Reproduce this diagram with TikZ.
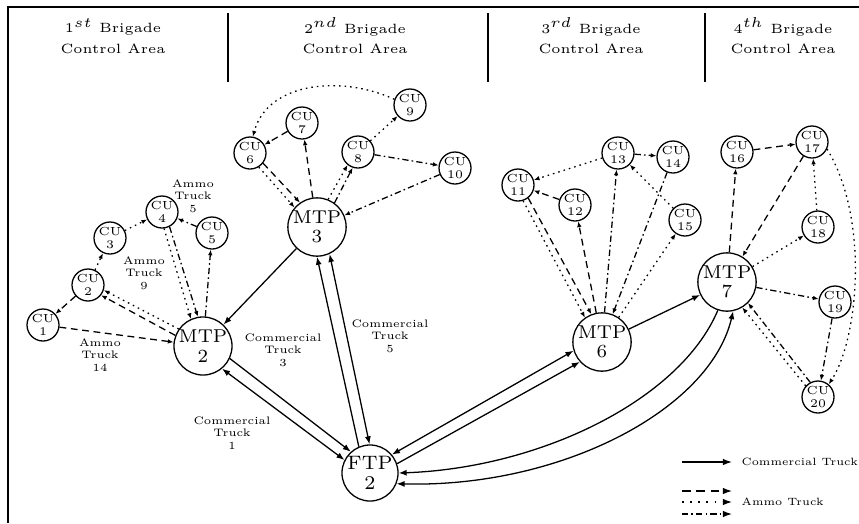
\documentclass[tikz,border=0pt]{standalone}
\usetikzlibrary{arrows.meta}
\begin{document}
\begin{tikzpicture}[x=0.35pt,y=-0.35pt,line width=0.45pt,
  cu/.style={circle,draw,minimum size=11.2pt,inner sep=0pt,align=center,font=\fontsize{4.1}{4.3}\selectfont},
  mtp/.style={circle,draw,minimum size=16.5pt,inner sep=0pt,align=center,font=\fontsize{6.5}{6.8}\selectfont},
  ftp/.style={circle,draw,minimum size=18.9pt,inner sep=0pt,align=center,font=\fontsize{6.8}{7}\selectfont},
  hdr/.style={align=center,font=\fontsize{4.7}{7.2}\selectfont,inner sep=0pt},
  lbl/.style={align=center,font=\fontsize{3.8}{4.4}\selectfont,inner sep=0pt},
  lgd/.style={font=\fontsize{3.7}{4.4}\selectfont,inner sep=0pt},
  am/.style={-{Latex[length=2pt,width=1.6pt]}},
  ar/.style={-{Latex[length=2.8pt,width=2.1pt]}},
  rar/.style={{Latex[length=2.8pt,width=2.1pt]}-},
  bar/.style={{Latex[length=2.8pt,width=2.1pt]}-{Latex[length=2.8pt,width=2.1pt]}},
  legar/.style={-{Latex[length=3.2pt,width=2.3pt]}},
  dsh/.style={dash pattern=on 2.4pt off 1.6pt},
  dtt/.style={dash pattern=on 0.55pt off 1.4pt},
  ddt/.style={dash pattern=on 2.2pt off 1.1pt on 0.55pt off 1.1pt},
  frame/.style={line width=0.8pt},
  sep/.style={line width=0.55pt}
]
\useasboundingbox (0,0) rectangle (859,523);

% frame
\coordinate (f0) at (8,523);
\coordinate (f1) at (8,7);
\coordinate (f2) at (859,7);
\draw[frame] (f0) -- (f1) -- (f2);

% separators
\coordinate (s1a) at (228,13); \coordinate (s1b) at (228,82);
\coordinate (s2a) at (488,13); \coordinate (s2b) at (488,82);
\coordinate (s3a) at (705,13); \coordinate (s3b) at (705,82);
\draw[sep] (s1a) -- (s1b);
\draw[sep] (s2a) -- (s2b);
\draw[sep] (s3a) -- (s3b);

% headers
\node[hdr] (h1) at (113,36) {1$^{st}$ Brigade\\Control Area};
\node[hdr] (h2) at (355,36) {2$^{nd}$ Brigade\\Control Area};
\node[hdr] (h3) at (591,36) {3$^{rd}$ Brigade\\Control Area};
\node[hdr] (h4) at (783,36) {4$^{th}$ Brigade\\Control Area};

% nodes
\node[cu] (CU1) at (43,325) {CU\\1};
\node[cu] (CU2) at (88,285) {CU\\2};
\node[cu] (CU3) at (110,238) {CU\\3};
\node[cu] (CU4) at (162,212) {CU\\4};
\node[cu] (CU5) at (212,233) {CU\\5};
\node[mtp] (MTP2) at (203,346) {MTP\\2};
\node[cu] (CU6) at (250,153) {CU\\6};
\node[cu] (CU7) at (302,123) {CU\\7};
\node[cu] (CU8) at (358,152) {CU\\8};
\node[cu] (CU9) at (410,105) {CU\\9};
\node[cu] (CU10) at (455,168) {CU\\10};
\node[mtp] (MTP3) at (317,227) {MTP\\3};
\node[ftp] (FTP) at (370,473) {FTP\\2};
\node[cu] (CU11) at (518,185) {CU\\11};
\node[cu] (CU12) at (575,205) {CU\\12};
\node[cu] (CU13) at (618,153) {CU\\13};
\node[cu] (CU14) at (673,157) {CU\\14};
\node[cu] (CU15) at (685,220) {CU\\15};
\node[mtp] (MTP6) at (602,342) {MTP\\6};
\node[cu] (CU16) at (737,152) {CU\\16};
\node[cu] (CU17) at (812,142) {CU\\17};
\node[cu] (CU18) at (818,227) {CU\\18};
\node[cu] (CU19) at (835,302) {CU\\19};
\node[cu] (CU20) at (818,397) {CU\\20};
\node[mtp] (MTP7) at (727,282) {MTP\\7};

% labels
\node[lbl] (l5) at (193,196) {Ammo\\Truck\\5};
\node[lbl] (l9) at (144,273) {Ammo\\Truck\\9};
\node[lbl] (l14) at (100,355) {Ammo\\Truck\\14};
\node[lbl] (lc3) at (283,350) {Commercial\\Truck\\3};
\node[lbl] (lc5) at (390,336) {Commercial\\Truck\\5};
\node[lbl] (lc1) at (232,433) {Commercial\\Truck\\1};

% cluster 1
\draw[dtt,am] (MTP2.145) -- (CU2.342);
\draw[dsh,am] (MTP2.159) -- (CU2.322);
\draw[dsh,am] (CU2) -- (CU1);
\draw[dsh,am] (CU1) -- (MTP2);
\draw[dtt,am] (CU2) -- (CU3);
\draw[dtt,am] (CU3) -- (CU4);
\draw[dtt,am] (CU4.-83) -- (MTP2.114);
\draw[ddt,am] (CU4.-63) -- (MTP2.100);
\draw[ddt,am] (MTP2) -- (CU5);
\draw[ddt,am] (CU5) -- (CU4);

% cluster 2
\draw[dsh,am] (MTP3) -- (CU7);
\draw[dsh,am] (CU7) -- (CU6);
\draw[dtt,am] (CU6.-58) -- (MTP3.139);
\draw[dsh,am] (CU6.-38) -- (MTP3.125);
\draw[dtt,am] (MTP3.68) -- (CU8.231);
\draw[ddt,am] (MTP3.54) -- (CU8.251);
\draw[dtt,am] (CU8) -- (CU9);
\draw[dtt,am] (CU9.160) to[out=155,in=75] (CU6.80);
\draw[ddt,am] (CU8) -- (CU10);
\draw[ddt,am] (CU10) -- (MTP3);

% cluster 3
\draw[dsh,am] (MTP6) -- (CU12);
\draw[dsh,am] (CU12) -- (CU11);
\draw[dtt,am] (CU11.-72) -- (MTP6.125);
\draw[dsh,am] (CU11.-52) -- (MTP6.111);
\draw[ddt,am] (MTP6) -- (CU13);
\draw[ddt,am] (CU13) -- (CU14);
\draw[ddt,am] (CU14) -- (MTP6);
\draw[dtt,am] (MTP6) -- (CU15);
\draw[dtt,am] (CU15) -- (CU13);
\draw[dtt,am] (CU13) -- (CU11);

% cluster 4
\draw[dsh,am] (MTP7) -- (CU16);
\draw[dsh,am] (CU16) -- (CU17);
\draw[dsh,am] (CU17) -- (MTP7);
\draw[dtt,am] (MTP7) -- (CU18);
\draw[dtt,am] (CU18) -- (CU17);
\draw[dtt,am] (CU17.-25) .. controls (870,220) and (858,340) .. (CU20.50);
\draw[ddt,am] (MTP7) -- (CU19);
\draw[ddt,am] (CU19) -- (CU20);
\draw[dtt,am] (CU20.138) -- (MTP7.301);
\draw[ddt,am] (CU20.118) -- (MTP7.315);

% commercial trucks
\draw[ar] (MTP3) -- (MTP2);
\draw[ar] (MTP2.-25) -- (FTP.132);
\draw[bar] (MTP2.-50) -- (FTP.153);
\draw[ar] (FTP.113) -- (MTP3.-90);
\draw[bar] (MTP3.-65) -- (FTP.91);
\draw[bar] (FTP.40) -- (MTP6.197);
\draw[ar] (FTP.19) -- (MTP6.222);
\draw[ar] (MTP6) -- (MTP7);
\draw[rar] (FTP.0) .. controls (540,468) and (680,400) .. (MTP7.-108);
\draw[bar] (FTP.-22) .. controls (560,488) and (710,410) .. (MTP7.-78);

% legend
\coordinate (a1) at (682,462); \coordinate (a2) at (732,462);
\coordinate (b1) at (682,491); \coordinate (b2) at (732,491);
\coordinate (c1) at (682,502); \coordinate (c2) at (732,502);
\coordinate (d1) at (682,514); \coordinate (d2) at (732,514);
\draw[legar] (a1) -- (a2);
\draw[legar,dash pattern=on 3pt off 2pt] (b1) -- (b2);
\draw[legar,dash pattern=on 0.55pt off 2.3pt] (c1) -- (c2);
\draw[legar,ddt] (d1) -- (d2);
\node[lgd,anchor=west] (t1) at (741,462) {Commercial Truck};
\node[lgd,anchor=west] (t2) at (741,502) {Ammo Truck};
\end{tikzpicture}
\end{document}
